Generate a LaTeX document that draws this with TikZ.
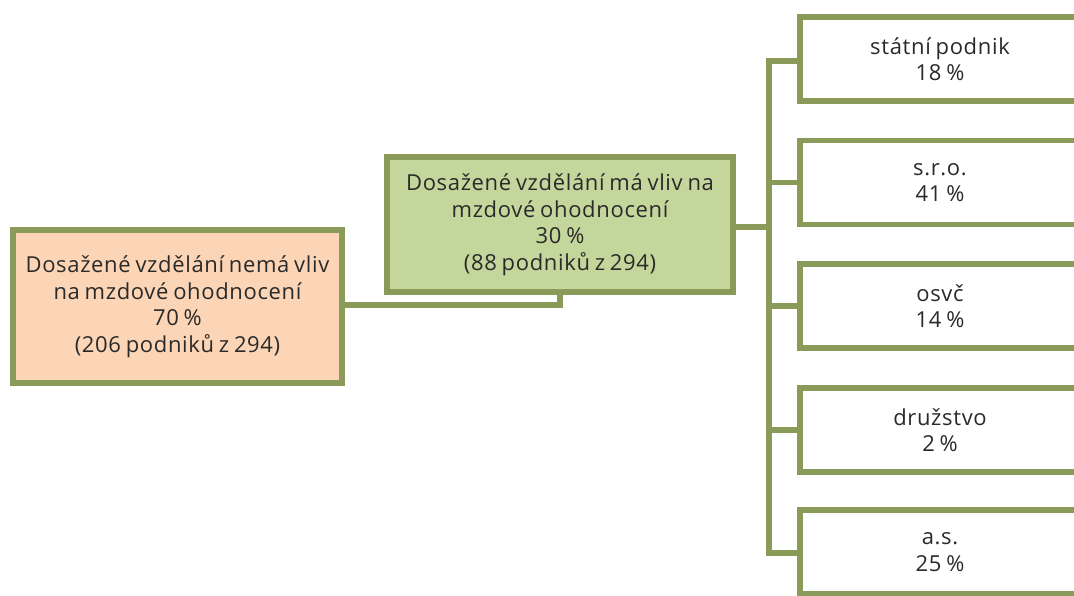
\documentclass[tikz,border=0pt]{standalone}
\usepackage{fontspec}
\setmainfont{Open Sans}[LetterSpace=3, WordSpace=0.75]
\definecolor{olive}{HTML}{8A9A58}
\definecolor{peach}{HTML}{FBD5B5}
\definecolor{lightolive}{HTML}{C3D69B}
\definecolor{ink}{HTML}{2A2A2A}
\tikzset{
  box/.style={draw=olive, line width=5.5pt, rectangle, align=center, text=ink,
    font=\fontsize{22}{26.5}\selectfont, inner sep=0pt},
  leafbox/.style={box, fill=white, minimum width=280pt, minimum height=84pt},
  link/.style={draw=olive, line width=5.5pt}
}
\begin{document}
\begin{tikzpicture}[x=1pt, y=-1pt]
  \useasboundingbox (0,0) rectangle (1074,595);
  \clip (0,0) rectangle (1074,595);
  \fill[white] (0,0) rectangle (1074,595);

  % root choice and the branch that splits further
  \node[box, fill=peach, minimum width=329pt, minimum height=153pt] (no) at (177.5,306.5)
    {Dosažené vzdělání nemá vliv\\na mzdové ohodnocení\\70 \%\\(206 podniků z 294)};
  \node[box, fill=lightolive, minimum width=346pt, minimum height=135pt] (yes) at (560,224.5)
    {Dosažené vzdělání má vliv na\\mzdové ohodnocení\\30 \%\\(88 podniků z 294)};

  % legal forms of the enterprises
  \node[leafbox] (b1) at (940,59) {státní podnik\\18 \%};
  \node[leafbox] (b2) at (940,182.5) {s.r.o.\\41 \%};
  \node[leafbox] (b3) at (940,306) {osvč\\14 \%};
  \node[leafbox] (b4) at (940,430) {družstvo\\2 \%};
  \node[leafbox] (b5) at (940,552) {a.s.\\25 \%};

  \coordinate (bus) at (769,0);

  \draw[link] (no.east |- 0,305) -| (yes.south);
  \draw[link] (yes.east |- 0,227) -- (bus |- 0,227);
  \draw[link, line cap=rect] (bus |- 0,61) -- (bus |- 0,553);
  \draw[link] (bus |- 0,61) -- (b1.west |- 0,61);
  \draw[link] (bus |- b2.west) -- (b2.west);
  \draw[link] (bus |- b3.west) -- (b3.west);
  \draw[link] (bus |- b4.west) -- (b4.west);
  \draw[link] (bus |- 0,553) -- (b5.west |- 0,553);
\end{tikzpicture}
\end{document}
